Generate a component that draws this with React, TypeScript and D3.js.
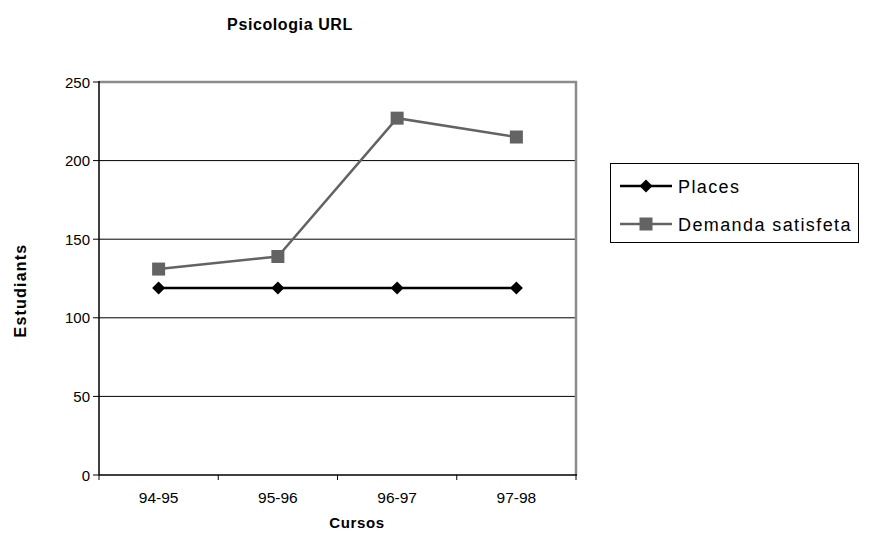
import React from "react";
import * as d3 from "d3";

const categories = ["94-95", "95-96", "96-97", "97-98"];
const places = [119, 119, 119, 119];
const demanda = [131, 139, 227, 215];
const yTicks = [0, 50, 100, 150, 200, 250];
const seriesNames = ["Places", "Demanda satisfeta"];

const W = 870, H = 533;
const L = 99, R = 576, T = 82, B = 475;
const FONT = "'Liberation Sans', Arial, sans-serif";

export default function App() {
  const x = d3.scaleBand<string>().domain(categories).range([L, R]);
  const y = d3.scaleLinear().domain([0, 250]).range([B, T]);
  const cx = (c: string) => (x(c) as number) + x.bandwidth() / 2;
  const line = d3.line<number>().x((_, i) => cx(categories[i])).y((v) => y(v));
  const diamond = (px: number, py: number, r: number) =>
    `M${px},${py - r}L${px + r},${py}L${px},${py + r}L${px - r},${py}Z`;
  const gray = "#636363";

  return (
    <svg width={W} height={H} style={{ position: "absolute", left: 0, top: 0, background: "#fff" }} fontFamily={FONT}>
      <rect x={0} y={0} width={W} height={H} fill="#fff" />
      <text x={290} y={30} textAnchor="middle" fontSize={16} fontWeight="bold" letterSpacing={0.6}>Psicologia URL</text>
      {/* gridlines */}
      {yTicks.filter((t) => t > 0 && t < 250).map((t) => (
        <line key={t} x1={L} x2={R} y1={y(t)} y2={y(t)} stroke="#000" strokeWidth={1} />
      ))}
      {/* gray frame */}
      <path d={`M${L},${T}H${R}V${B}`} fill="none" stroke="#8c8c8c" strokeWidth={2.5} />
      {/* y axis */}
      <line x1={L} x2={L} y1={T - 1} y2={B} stroke="#000" strokeWidth={1.5} />
      {yTicks.map((t) => (
        <g key={t}>
          <line x1={L - 6} x2={L} y1={y(t)} y2={y(t)} stroke="#000" />
          <text x={L - 9} y={y(t) + 5.5} textAnchor="end" fontSize={15}>{t}</text>
        </g>
      ))}
      {/* x axis */}
      <line x1={L} x2={R + 1} y1={B} y2={B} stroke="#000" strokeWidth={1.5} />
      {[...categories.map((c) => x(c) as number), R].map((v, i) => (
        <line key={i} x1={v} x2={v} y1={B} y2={B + 5} stroke="#000" />
      ))}
      {categories.map((c) => (
        <text key={c} x={cx(c)} y={B + 28} textAnchor="middle" fontSize={15.5}>{c}</text>
      ))}
      <text x={357} y={528} textAnchor="middle" fontSize={15} fontWeight="bold" letterSpacing={0.6}>Cursos</text>
      <text transform={`translate(26,${(T + B) / 2 + 12}) rotate(-90)`} textAnchor="middle" fontSize={16} fontWeight="bold" letterSpacing={1.2}>Estudiants</text>
      {/* series */}
      <path d={line(places) || ""} fill="none" stroke="#000" strokeWidth={2.5} />
      {places.map((v, i) => (
        <path key={i} d={diamond(cx(categories[i]), y(v), 6.5)} fill="#000" />
      ))}
      <path d={line(demanda) || ""} fill="none" stroke={gray} strokeWidth={2.5} />
      {demanda.map((v, i) => (
        <rect key={i} x={cx(categories[i]) - 6.5} y={y(v) - 6.5} width={13} height={13} fill={gray} />
      ))}
      {/* legend */}
      <rect x={610.5} y={163.5} width={248} height={79} fill="#fff" stroke="#000" strokeWidth={1} />
      <line x1={620} x2={672} y1={186} y2={186} stroke="#000" strokeWidth={2.5} />
      <path d={diamond(646, 186, 6.5)} fill="#000" />
      <text x={678} y={193} fontSize={18} letterSpacing={1.4}>{seriesNames[0]}</text>
      <line x1={620} x2={672} y1={224} y2={224} stroke={gray} strokeWidth={2.5} />
      <rect x={639.5} y={217.5} width={13} height={13} fill={gray} />
      <text x={678} y={231} fontSize={18} letterSpacing={1.4}>{seriesNames[1]}</text>
    </svg>
  );
}
